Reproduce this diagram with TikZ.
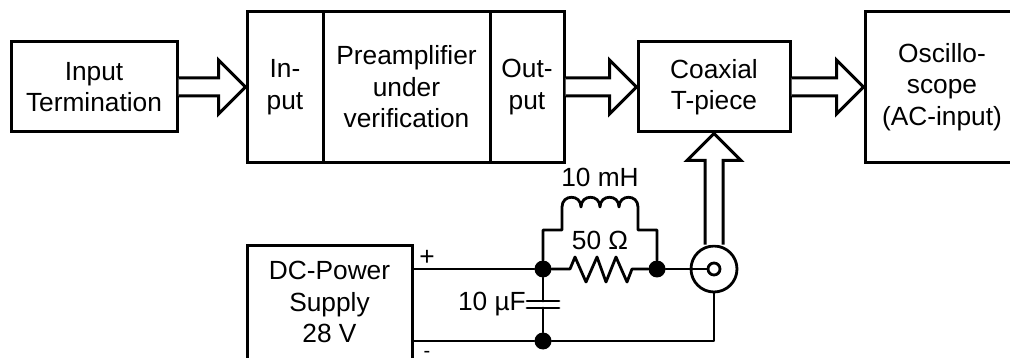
\documentclass[tikz,border=0pt]{standalone}
\usepackage{fontspec}
\setmainfont{Liberation Sans}
\usetikzlibrary{calc}
\tikzset{
  x=1pt,y=-1pt,
  wire/.style={line width=2.8pt,line cap=round,line join=round},
  blockbox/.style={draw,line width=3pt,rectangle,inner sep=0pt,align=center,font=\fontsize{26.3}{31.5}\selectfont,line join=miter},
  lbl/.style={inner sep=0pt,font=\fontsize{26.3}{30}\selectfont},
  junction/.style={circle,fill=black,inner sep=0pt,minimum size=17pt},
  hblock/.style={draw,fill=white,line width=3pt,line join=miter,to path={
    ($(\tikztostart)+(0,-9)$) -- ($(\tikztotarget)+(-27,-9)$) -- ($(\tikztotarget)+(-27,-27)$) -- (\tikztotarget)
    -- ($(\tikztotarget)+(-27,27)$) -- ($(\tikztotarget)+(-27,9)$) -- ($(\tikztostart)+(0,9)$)}},
  vblock/.style={draw,fill=white,line width=3pt,line join=miter,to path={
    ($(\tikztostart)+(-9,0)$) -- ($(\tikztotarget)+(-9,27)$) -- ($(\tikztotarget)+(-27,27)$) -- (\tikztotarget)
    -- ($(\tikztotarget)+(27,27)$) -- ($(\tikztotarget)+(9,27)$) -- ($(\tikztostart)+(9,0)$)}},
}
\begin{document}
\begin{tikzpicture}
\clip (0,0) rectangle (1010,358);
\fill[white] (0,0) rectangle (1010,358);
% boxes
\node[blockbox,minimum width=166pt,minimum height=90pt] (term) at (94,87) {Input\\Termination};
\node[blockbox,minimum width=76pt,minimum height=151pt] (inp) at (285,87) {In-\\put};
\node[blockbox,minimum width=167pt,minimum height=151pt] (pre) at (406.5,87) {Preamplifier\\under\\verification};
\node[blockbox,minimum width=74pt,minimum height=151pt] (out) at (527,87) {Out-\\put};
\node[blockbox,minimum width=152pt,minimum height=90pt] (tee) at (714,87) {Coaxial\\T-piece};
\node[blockbox,minimum width=154pt,minimum height=151pt] (osc) at (942,87) {Oscillo-\\scope\\(AC-input)};
\node[blockbox,minimum width=165pt,minimum height=118pt] (dc) at (329.5,305) {};
\node[blockbox,draw=none] (dcText) at (329.5,302) {DC-Power\\Supply\\28 V};
% block arrows
\draw[hblock] (term.east) to (inp.west);
\draw[hblock] (out.east) to (tee.west);
\draw[hblock] (tee.east) to (osc.west);
% circuit nodes
\node[junction] (j1) at (543,269) {};
\node[junction] (j2) at (657,269) {};
\node[junction] (j3) at (543,341) {};
\node[circle,draw,fill=white,line width=2.8pt,minimum size=46pt,inner sep=0pt] (coax) at (714,269) {};
\draw[vblock] (coax.north) to (tee.south);
\coordinate (capA) at (543,301);
\coordinate (capB) at (543,308);
\coordinate (resA) at (570,269);
\coordinate (resB) at (632,269);
\coordinate (indA) at (562,207);
\coordinate (indB) at (638,207);
% wires
\draw[wire] (j1 -| dc.east) -- (j1);
\draw[wire] (j3 -| dc.east) -- (j3);
\draw[wire] (j3) -- (coax.south |- j3) -- (coax.south);
\draw[wire] (j1) -- (capA);
\draw[wire] (capB) -- (j3);
\draw[wire] ($(capA)+(-16,0)$) -- ($(capA)+(16,0)$);
\draw[wire] ($(capB)+(-16,0)$) -- ($(capB)+(16,0)$);
\draw[wire] (j1) -- (resA) -- ++(5,-12) -- ++(11,25) -- ++(11,-25) -- ++(9,25) -- ++(10,-25) -- ++(11,25) -- (resB) -- (j2);
\draw[wire] (j1) -- (j1 |- 0,230) -- (indA |- 0,230) -- (indA)
  .. controls +(0,-13) and +(0,-13) .. ++(19,0)
  .. controls +(0,-13) and +(0,-13) .. ++(19,0)
  .. controls +(0,-13) and +(0,-13) .. ++(19,0)
  .. controls +(0,-13) and +(0,-13) .. (indB)
  -- (indB |- 0,230) -- (j2 |- 0,230) -- (j2);
\node[circle,draw,fill=white,line width=2.8pt,minimum size=12pt,inner sep=0pt] (pin) at (coax.center) {};
\draw[wire] (j2) -- (pin.west);
% labels
\node[lbl] (lblL) at (600,177) {10 mH};
\node[lbl] (lblR) at (600,240) {50 Ω};
\node[lbl,anchor=east] (lblC) at (526,304) {10 µF};
\node[lbl] (lblP) at (427,258) {+};
\node[inner sep=0pt,anchor=base,font=\fontsize{20}{20}\selectfont] (lblM) at (427,357.5) {-};
\end{tikzpicture}
\end{document}
